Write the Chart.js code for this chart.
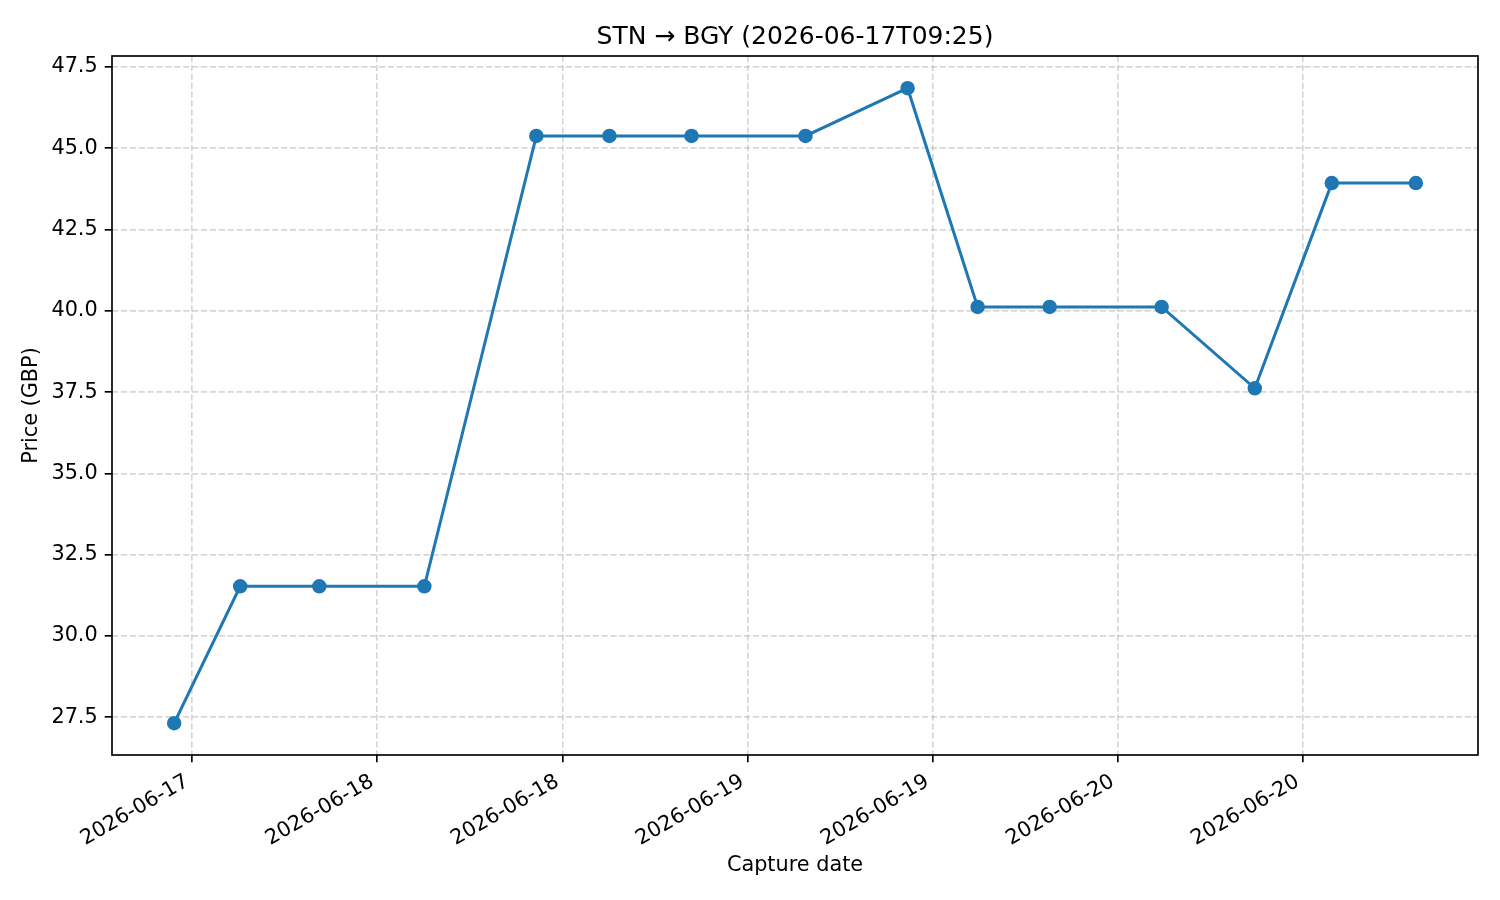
<!DOCTYPE html>
<html>
<head>
<meta charset="utf-8">
<script src="https://cdn.jsdelivr.net/npm/chart.js@4/dist/chart.umd.min.js"></script>
<style>
  html, body { margin: 0; padding: 0; background: #ffffff; }
  canvas { display: block; }
</style>
</head>
<body>
<canvas id="c" width="1500" height="900"></canvas>
<script>
// ---- data (hours since 2026-06-17 00:00) ----
const captureHours = [10.83, 15.11, 20.24, 27.05, 34.31, 39.05, 44.37, 51.76, 58.38, 62.92, 67.59, 74.85, 80.89, 85.88, 91.33];
const prices = [27.32, 31.53, 31.53, 31.53, 45.38, 45.38, 45.38, 45.38, 46.85, 40.12, 40.12, 40.12, 37.62, 43.93, 43.93];
const xTickHours = [12, 24, 36, 48, 60, 72, 84];
const xTickLabels = ['2026-06-17', '2026-06-18', '2026-06-18', '2026-06-19', '2026-06-19', '2026-06-20', '2026-06-20'];
const titleText = 'STN \u2192 BGY (2026-06-17T09:25)';
const xTitle = 'Capture date';
const yTitle = 'Price (GBP)';

const FONT = "'DejaVu Sans', sans-serif";
const LINE_COLOR = '#1f77b4';
const GRID_COLOR = 'rgba(176,176,176,0.5)';

const points = captureHours.map((h, i) => ({ x: h, y: prices[i] }));

const textPlugin = {
  id: 'texts',
  afterDatasetsDraw(chart) {
    const ctx = chart.ctx;
    const a = chart.chartArea;
    ctx.save();
    ctx.strokeStyle = '#000000';
    ctx.lineWidth = 1.67;
    ctx.setLineDash([]);
    ctx.strokeRect(a.left, a.top, a.right - a.left, a.bottom - a.top);
    ctx.restore();
  },
  afterDraw(chart) {
    const ctx = chart.ctx;
    const a = chart.chartArea;
    const cx = (a.left + a.right) / 2;
    const cy = (a.top + a.bottom) / 2;
    ctx.save();
    ctx.fillStyle = '#000000';
    ctx.textAlign = 'center';
    ctx.textBaseline = 'alphabetic';
    ctx.font = '25px ' + FONT;
    ctx.fillText(titleText, cx, a.top - 12.5);
    ctx.font = '20.8px ' + FONT;
    ctx.fillText(xTitle, cx, 871);
    ctx.translate(37, cy);
    ctx.rotate(-Math.PI / 2);
    ctx.fillText(yTitle, 0, 0);
    ctx.restore();
  }
};

new Chart(document.getElementById('c'), {
  type: 'line',
  data: {
    datasets: [{
      data: points,
      borderColor: LINE_COLOR,
      backgroundColor: LINE_COLOR,
      borderWidth: 3,
      pointRadius: 6.25,
      pointHoverRadius: 6.25,
      pointBackgroundColor: LINE_COLOR,
      pointBorderColor: LINE_COLOR,
      pointBorderWidth: 2,
      tension: 0,
      fill: false
    }]
  },
  options: {
    responsive: false,
    devicePixelRatio: 1,
    animation: false,
    events: [],
    layout: { padding: { top: 56, right: 22, bottom: 0, left: 0 } },
    plugins: { legend: { display: false }, title: { display: false }, tooltip: { enabled: false } },
    scales: {
      x: {
        type: 'linear',
        min: 6.8,
        max: 95.36,
        afterFit(scale) { scale.height = 145; },
        afterBuildTicks(scale) { scale.ticks = xTickHours.map(v => ({ value: v })); },
        ticks: {
          autoSkip: false,
          minRotation: 30,
          maxRotation: 30,
          padding: 7,
          labelOffset: -5,
          color: '#000000',
          font: { family: FONT, size: 20.8 },
          callback: (value, index) => xTickLabels[index]
        },
        grid: {
          color: GRID_COLOR,
          lineWidth: 1.67,
          tickLength: 7.3,
          tickColor: '#000000',
          tickWidth: 1.67,
          tickBorderDash: []
        },
        border: { display: false, dash: [6.2, 2.7] }
      },
      y: {
        type: 'linear',
        min: 26.34,
        max: 47.84,
        afterFit(scale) { scale.width = 112; },
        ticks: {
          stepSize: 2.5,
          includeBounds: false,
          padding: 7,
          color: '#000000',
          font: { family: FONT, size: 20.8 },
          callback: (value) => Number(value).toFixed(1)
        },
        grid: {
          color: GRID_COLOR,
          lineWidth: 1.67,
          tickLength: 7.3,
          tickColor: '#000000',
          tickWidth: 1.67,
          tickBorderDash: []
        },
        border: { display: false, dash: [6.2, 2.7] }
      }
    }
  },
  plugins: [textPlugin]
});
</script>
</body>
</html>
